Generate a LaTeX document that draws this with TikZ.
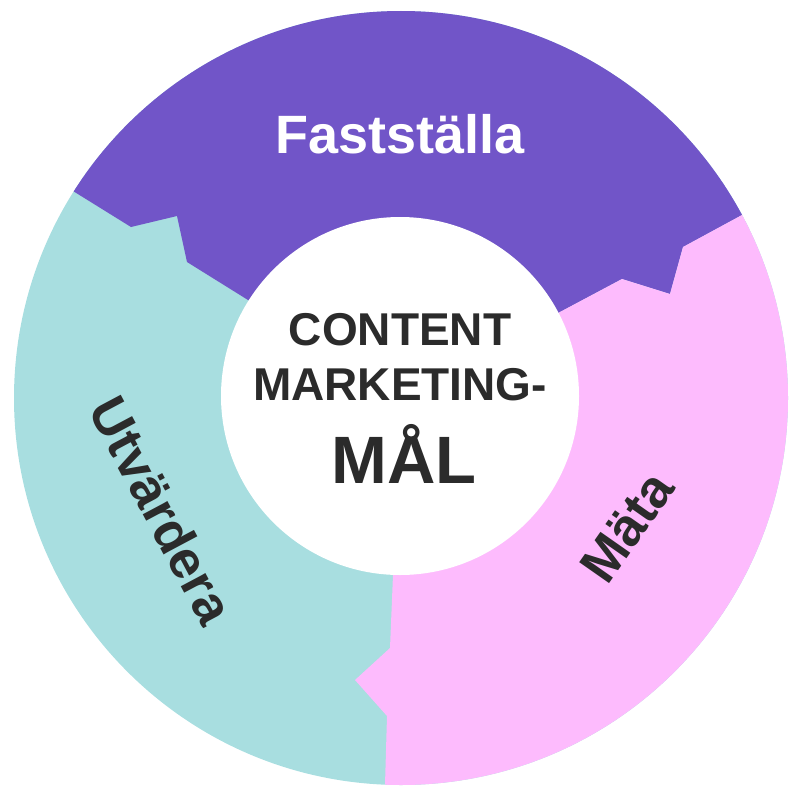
\documentclass[tikz,border=0pt]{standalone}
\usepackage{fontspec}
\setmainfont{Liberation Sans}
\definecolor{setpurple}{HTML}{7155C8}
\definecolor{measpink}{HTML}{FDBBFD}
\definecolor{evalteal}{HTML}{A8DEE0}
\definecolor{darktext}{HTML}{2B2B2B}

\begin{document}
\begin{tikzpicture}[x=1pt, y=-1pt,
    steplabel/.style={inner sep=0pt, text=darktext, font=\bfseries\fontsize{53}{53}\selectfont},
    goaltext/.style={inner sep=0pt, anchor=base, text=darktext, font=\bfseries\fontsize{46}{46}\selectfont}]

    \useasboundingbox (0,0) rectangle (800,800);

    % Ring segments
    \begin{scope}
        \clip (401,398) circle [radius=387pt];
        \fill[evalteal] (0,0) rectangle (800,800);
        \fill[setpurple] (0,0) -- (800,0) -- (801,183) -- (742,215) -- (683,247)
            -- (670,294) -- (622,279) -- (560,312) -- (400,396) -- (248,300)
            -- (187,262) -- (177,216) -- (131,227) -- (73,191) -- (15,155) -- cycle;
        \fill[measpink] (400,396) -- (560,312) -- (622,279) -- (670,294)
            -- (683,247) -- (742,215) -- (801,183) -- (800,800) -- (385,800)
            -- (385,785) -- (387,716) -- (355,680) -- (390,648) -- (393,575) -- cycle;
    \end{scope}

    % Centre
    \fill[white] (400,396) circle [radius=179pt];

    % Labels
    \node[steplabel, anchor=base, text=white, font=\bfseries\fontsize{54}{54}\selectfont] (fast) at (400,153) {Fastställa};
    \node[steplabel, rotate=55] (mata) at (627,527) {Mäta};
    \node[steplabel, rotate=-62] (utv) at (162,510) {Utvärdera};

    \node[goaltext] (content) at (400,345) {CONTENT};
    \node[goaltext] (marketing) at (400,400) {MARKETING-};
    \node[goaltext, font=\bfseries\fontsize{67}{67}\selectfont] (mal) at (404,483) {MÅL};

\end{tikzpicture}
\end{document}
